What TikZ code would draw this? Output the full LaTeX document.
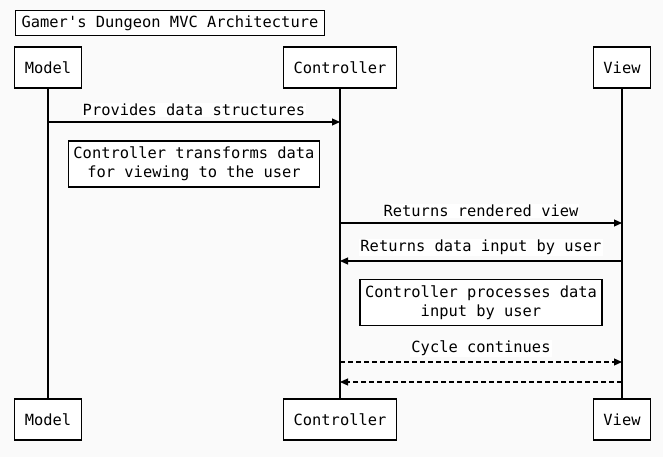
\documentclass[tikz,border=0pt]{standalone}
\usepackage{fontspec}
\setmonofont{DejaVu Sans Mono}
\usetikzlibrary{arrows.meta,positioning}

\begin{document}
\begin{tikzpicture}[x=1pt,y=-1pt,
		font=\ttfamily\fontsize{15.4}{19}\selectfont,
		box/.style={draw=black,fill=white,line width=1.3pt},
		actor/.style={box,minimum height=41pt,inner xsep=10pt},
		notebox/.style={box,align=center,inner xsep=5pt,inner ysep=6pt},
		lbl/.style={fill=white,inner sep=1pt,above=4.5pt}]

		\fill[gray!4] (0,0) rectangle (663,457);

		\node[box,anchor=north west,minimum height=25pt,inner xsep=6pt] (title) at (15,10) {Gamer's Dungeon MVC Architecture};

		\node[actor] (model) at (48,67.5) {Model};
		\node[actor] (ctrl) at (340,67.5) {Controller};
		\node[actor] (view) at (622,67.5) {View};
		\node[actor] (modelb) at (48,419.5) {Model};
		\node[actor] (ctrlb) at (340,419.5) {Controller};
		\node[actor] (viewb) at (622,419.5) {View};

		% lifelines
		\draw[line width=1.3pt] (model) -- (modelb);
		\draw[line width=1.3pt] (ctrl) -- (ctrlb);
		\draw[line width=1.3pt] (view) -- (viewb);

		\coordinate (m1) at (48,122);
		\coordinate (c1) at (340,122);
		\coordinate (c2) at (340,223);
		\coordinate (v2) at (622,223);
		\coordinate (c3) at (340,261);
		\coordinate (v3) at (622,261);
		\coordinate (c4) at (340,362);
		\coordinate (v4) at (622,362);
		\coordinate (c5) at (340,382);
		\coordinate (v5) at (622,382);

		\node[notebox] (note1) at (194,164) {Controller transforms data\\for viewing to the user};
		\node[notebox] (note2) at (481,302.5) {Controller processes data\\input by user};

		\begin{scope}[>={Triangle[length=8pt,width=7pt]},line width=1.1pt]
			\draw[->] (m1) -- node[lbl] {Provides data structures} (c1);
			\draw[->] (c2) -- node[lbl] {Returns rendered view} (v2);
			\draw[->] (v3) -- node[lbl] {Returns data input by user} (c3);
			\draw[->,dash pattern=on 5pt off 3pt] (c4) -- node[lbl] {Cycle continues} (v4);
			\draw[->,dash pattern=on 5pt off 3pt] (v5) -- (c5);
		\end{scope}

	\end{tikzpicture}
\end{document}
